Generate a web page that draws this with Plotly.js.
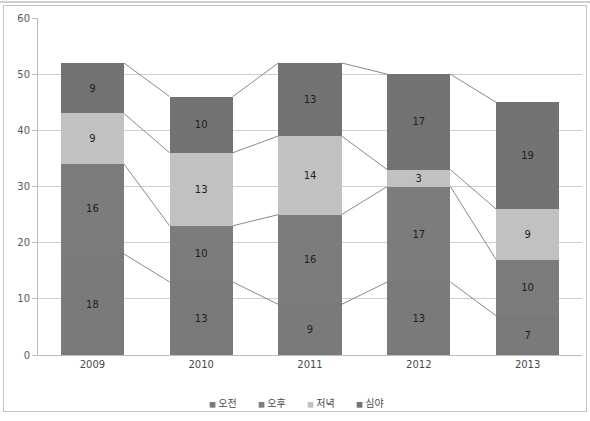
<!DOCTYPE html>
<html>
<head>
<meta charset="utf-8">
<script src="https://cdn.plot.ly/plotly-3.0.1.min.js"></script>
<style>
  html, body { margin: 0; padding: 0; background: #ffffff; }
  #wrap { position: relative; width: 590px; height: 421px; }
  #chart { position: absolute; left: 0; top: 0; width: 590px; height: 421px; }
  #frame { position: absolute; left: 3px; top: 5px; width: 582px; height: 405px;
           border: 1px solid #c4c4c4; pointer-events: none; }
  #topline { position: absolute; left: 0; top: 1px; width: 590px; height: 0;
             border-top: 2px solid #d0d0d0; pointer-events: none; }
</style>
</head>
<body>
<div id="wrap">
  <div id="chart"></div>
  <div id="topline"></div>
  <div id="frame"></div>
</div>
<script>
// Years on the category axis
const years = ['2009', '2010', '2011', '2012', '2013'];

// Counts per time-of-day band, stacked bottom to top
const seriesNames = ['오전', '오후', '저녁', '심야'];
const morning   = [18, 13, 9, 13, 7];
const afternoon = [16, 10, 16, 17, 10];
const evening   = [9, 13, 14, 3, 9];
const lateNight = [9, 10, 13, 17, 19];

const seriesValues = [morning, afternoon, evening, lateNight];
const seriesColors = ['#7a7a7a', '#7c7c7c', '#c1c1c1', '#737373'];

const barWidth = 0.58;
const xs = years.map((_, i) => i);

const traces = seriesValues.map((vals, k) => ({
  type: 'bar',
  name: seriesNames[k],
  x: xs,
  y: vals,
  width: barWidth,
  marker: { color: seriesColors[k], line: { width: 0 } },
  text: vals.map(String),
  textposition: 'inside',
  insidetextanchor: 'middle',
  textangle: 0,
  constraintext: 'none',
  textfont: { family: 'DejaVu Sans, sans-serif', size: 10, color: '#1e1e1e' },
  hoverinfo: 'name+y',
  showlegend: false
}));

// Series lines joining each stack boundary from one bar to the next
const lineX = [];
const lineY = [];
const running = years.map(() => 0);
seriesValues.forEach(vals => {
  vals.forEach((v, i) => { running[i] += v; });
  for (let i = 0; i < years.length - 1; i++) {
    lineX.push(i + barWidth / 2, i + 1 - barWidth / 2, null);
    lineY.push(running[i], running[i + 1], null);
  }
});
traces.push({
  type: 'scatter',
  mode: 'lines',
  x: lineX,
  y: lineY,
  line: { color: '#8a8a8a', width: 1 },
  hoverinfo: 'skip',
  showlegend: false
});

// Compact legend row under the axis: one entry per series
const plotLeft = 38, plotWidth = 544;
const legendStartPx = 207, legendStepPx = 49;
const legendItems = seriesNames.map((n, k) => ({
  xref: 'paper', yref: 'paper',
  x: (legendStartPx - plotLeft + k * legendStepPx) / plotWidth,
  y: -0.142,
  xanchor: 'left', yanchor: 'middle',
  showarrow: false,
  text: '<span style="color:' + seriesColors[k] + ';font-size:7px">■</span>\u00a0' + n,
  font: { family: 'Noto Sans CJK KR, sans-serif', size: 10, color: '#4a4a4a' }
}));

const layout = {
  width: 590,
  height: 421,
  margin: { l: 38, r: 8, t: 18, b: 66 },
  paper_bgcolor: '#ffffff',
  plot_bgcolor: '#ffffff',
  barmode: 'stack',
  font: { family: 'DejaVu Sans, sans-serif', size: 10, color: '#595959' },
  xaxis: {
    range: [-0.5, years.length - 0.5],
    tickmode: 'array',
    tickvals: xs,
    ticktext: years,
    showgrid: false,
    zeroline: false,
    showline: true,
    linecolor: '#bcbcbc',
    linewidth: 1,
    ticks: '',
    tickfont: { family: 'DejaVu Sans, sans-serif', size: 10, color: '#4a4a4a' },
    fixedrange: true
  },
  yaxis: {
    range: [0, 60],
    dtick: 10,
    showgrid: true,
    gridcolor: '#cfcfcf',
    gridwidth: 1,
    zeroline: false,
    showline: true,
    linecolor: '#bcbcbc',
    linewidth: 1,
    ticks: 'outside',
    ticklen: 5,
    tickcolor: '#bcbcbc',
    tickfont: { family: 'DejaVu Sans, sans-serif', size: 10, color: '#5a5a5a' },
    fixedrange: true
  },
  annotations: legendItems,
  showlegend: false
};

Plotly.newPlot('chart', traces, layout, { displayModeBar: false, staticPlot: true });
</script>
</body>
</html>
